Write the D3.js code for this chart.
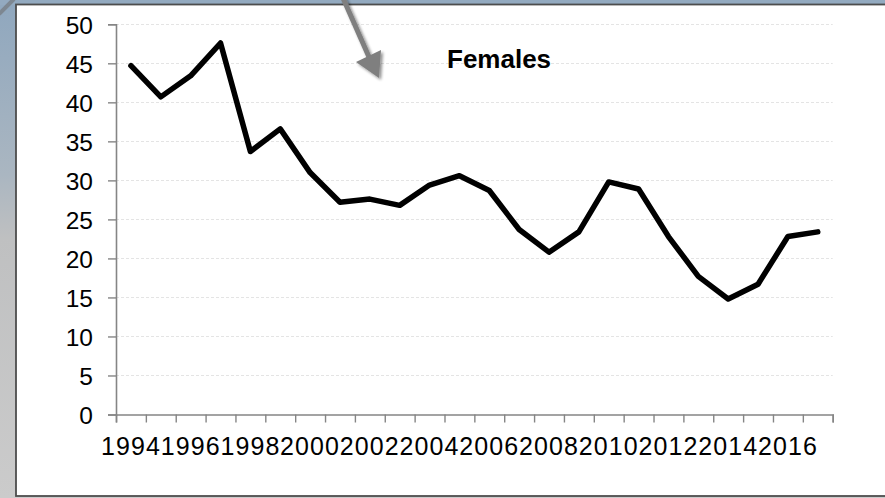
<!DOCTYPE html>
<html>
<head>
<meta charset="utf-8">
<script src="https://cdn.jsdelivr.net/npm/d3@7"></script>
<style>
  html, body { margin: 0; padding: 0; background: #fff; }
  svg { display: block; }
  text { font-family: "Liberation Sans", Arial, sans-serif; fill: #000; }
</style>
</head>
<body>
<svg id="chart" width="885" height="498"></svg>
<script>
// Female series, one value per year
const years = d3.range(1994, 2018).map(String);
const females = [44.7, 40.7, 43.4, 47.6, 33.7, 36.6, 31.0, 27.2, 27.6, 26.8,
                 29.4, 30.6, 28.7, 23.7, 20.8, 23.4, 29.8, 28.9, 22.8, 17.7,
                 14.8, 16.7, 22.8, 23.4];
const yTicks = d3.range(0, 51, 5);
const xLabels = years.filter((d, i) => i % 2 === 0);
const seriesTitle = "Females";

const svg = d3.select("#chart");
const defs = svg.append("defs");

// Slide backdrop: blue-grey band fading to grey down the left side
const grad = defs.append("linearGradient")
  .attr("id", "backdrop").attr("x1", 0).attr("y1", 0).attr("x2", 0).attr("y2", 1);
grad.append("stop").attr("offset", "0%").attr("stop-color", "#8fa7be");
grad.append("stop").attr("offset", "35%").attr("stop-color", "#aab6c1");
grad.append("stop").attr("offset", "48%").attr("stop-color", "#bfc0c1");
grad.append("stop").attr("offset", "100%").attr("stop-color", "#cbcbcb");

const shadow = defs.append("filter").attr("id", "soft")
  .attr("x", "-50%").attr("y", "-50%").attr("width", "200%").attr("height", "200%");
shadow.append("feGaussianBlur").attr("in", "SourceAlpha").attr("stdDeviation", 1.6).attr("result", "b");
shadow.append("feOffset").attr("in", "b").attr("dx", 1.5).attr("dy", 2).attr("result", "o");
shadow.append("feComponentTransfer").attr("in", "o").attr("result", "s")
  .append("feFuncA").attr("type", "linear").attr("slope", 0.45);
const merge = shadow.append("feMerge");
merge.append("feMergeNode").attr("in", "s");
merge.append("feMergeNode").attr("in", "SourceGraphic");

svg.append("rect").attr("x", 0).attr("y", 0).attr("width", 885).attr("height", 498)
  .attr("fill", "url(#backdrop)");
svg.append("rect").attr("x", 0).attr("y", 0).attr("width", 885).attr("height", 5)
  .attr("fill", "#93aac0");
svg.append("line").attr("x1", -1).attr("y1", 14).attr("x2", 14).attr("y2", -1)
  .attr("stroke", "#7d8791").attr("stroke-width", 4);

// Chart frame
svg.append("rect").attr("x", 16).attr("y", 4.5).attr("width", 880).attr("height", 491.5)
  .attr("fill", "#fff").attr("stroke", "#4d4d4d").attr("stroke-width", 1.8);

// Scales
const x = d3.scaleBand().domain(years).range([116, 832.7]).padding(0);
const xEdge = d3.scaleLinear().domain([0, years.length]).range([116, 832.7]);
const y = d3.scaleLinear().domain([0, 50]).range([414.5, 24.3]);

// Gridlines
svg.append("g").selectAll("line").data(yTicks.filter(d => d > 0)).join("line")
  .attr("x1", 116).attr("x2", 832.7)
  .attr("y1", d => Math.round(y(d)) + 0.5).attr("y2", d => Math.round(y(d)) + 0.5)
  .attr("stroke", "#e4e4e4").attr("stroke-width", 1).attr("stroke-dasharray", "3,2");

// Y axis
const yAxis = svg.append("g").attr("transform", "translate(116,0)")
  .call(d3.axisLeft(y).tickValues(yTicks).tickSize(8).tickPadding(15).tickFormat(d3.format("d")));
yAxis.select(".domain").attr("stroke", "#858585").attr("stroke-width", 1.6);
yAxis.selectAll(".tick line").attr("stroke", "#858585").attr("stroke-width", 1.4);
yAxis.selectAll("text").attr("font-size", 24.5).attr("font-family", "Liberation Sans, Arial, sans-serif")
  .attr("fill", "#000").attr("dy", "0.36em");

// X axis: ticks on category boundaries, labels on every other category
const xAxis = svg.append("g").attr("transform", `translate(0,${y(0)})`)
  .call(d3.axisBottom(xEdge).tickValues(d3.range(years.length + 1)).tickSize(8).tickFormat(""));
xAxis.select(".domain").attr("stroke", "#858585").attr("stroke-width", 1.6);
xAxis.selectAll(".tick line").attr("stroke", "#858585").attr("stroke-width", 1.4);

const xText = svg.append("g").attr("transform", `translate(0,${y(0)})`)
  .call(d3.axisBottom(x).tickValues(xLabels).tickSize(0).tickPadding(0));
xText.select(".domain").remove();
xText.selectAll("text").attr("font-size", 25).attr("font-family", "Liberation Sans, Arial, sans-serif")
  .attr("fill", "#000").attr("dy", 0).attr("y", 40.5).attr("letter-spacing", "1.1px");

// Series line
const line = d3.line()
  .x((d, i) => x(years[i]) + x.bandwidth() / 2)
  .y(d => y(d));
svg.append("path").datum(females)
  .attr("d", line)
  .attr("fill", "none").attr("stroke", "#000").attr("stroke-width", 5.5)
  .attr("stroke-linejoin", "round").attr("stroke-linecap", "round");

// Series title
svg.append("text").attr("x", 447).attr("y", 68)
  .attr("font-size", 26).attr("font-weight", "bold").text(seriesTitle);

// Callout arrow
const arrow = svg.append("g").attr("filter", "url(#soft)");
arrow.append("line").attr("x1", 343).attr("y1", -2).attr("x2", 369).attr("y2", 57)
  .attr("stroke", "#7f7f7f").attr("stroke-width", 5);
arrow.append("path").attr("d", "M356,62 L381,50 L379,78 Z").attr("fill", "#7f7f7f");
</script>
</body>
</html>
